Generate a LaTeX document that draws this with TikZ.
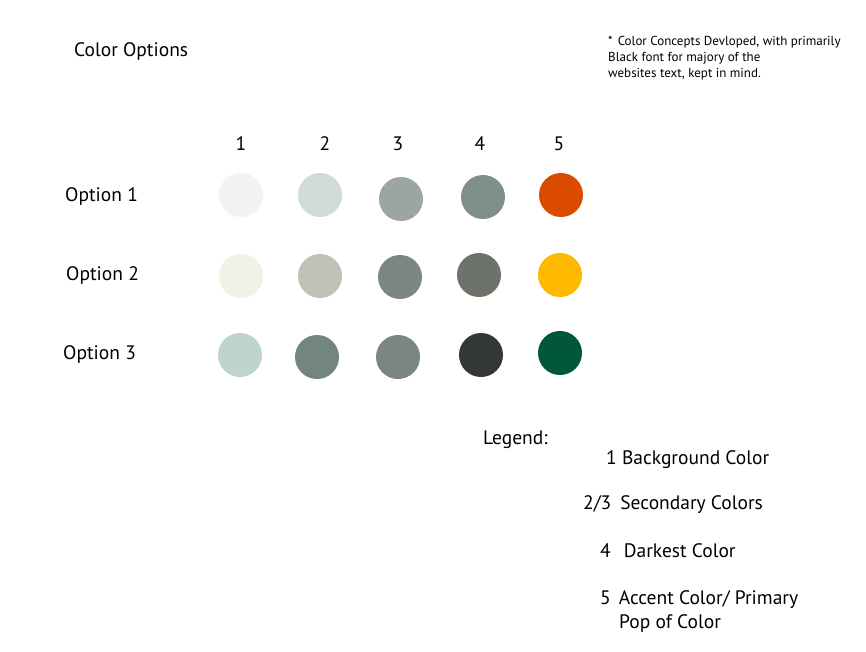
\documentclass[tikz,border=0pt]{standalone}
\usepackage{fontspec}
\setmainfont{PT Sans}
\begin{document}
\begin{tikzpicture}[x=1pt,y=-1pt,
  lbl/.style={anchor=base west,inner sep=0pt,font=\fontsize{19.5}{23}\selectfont},
  num/.style={anchor=base,inner sep=0pt,font=\fontsize{19.5}{23}\selectfont},
  note/.style={anchor=base west,inner sep=0pt,font=\fontsize{13}{16}\selectfont},
  dot/.style={circle,minimum size=44pt,inner sep=0pt,draw=none}]
\useasboundingbox[fill=white] (0,0) rectangle (866,652);
\node[lbl] (title) at (74,57) {Color Options};
\node[note] (note1) at (608,46) {*\hspace{5pt}Color Concepts Devloped, with primarily};
\node[note] (note2) at (608,62) {Black font for majory of the};
\node[note] (note3) at (608,78) {websites text, kept in mind.};
\node[num] (n1) at (241,151) {1};
\node[num] (n2) at (325,151) {2};
\node[num] (n3) at (398,151) {3};
\node[num] (n4) at (480,151) {4};
\node[num] (n5) at (559,151) {5};
\node[lbl] (o1) at (65,201) {Option 1};
\node[lbl] (o2) at (66,280) {Option 2};
\node[lbl] (o3) at (63,359) {Option 3};
\definecolor{ca1}{HTML}{F1F2F4}\definecolor{ca2}{HTML}{D0DCDA}\definecolor{ca3}{HTML}{9AA5A4}\definecolor{ca4}{HTML}{7E8F88}\definecolor{ca5}{HTML}{DA4B00}
\definecolor{cb1}{HTML}{F0F2E5}\definecolor{cb2}{HTML}{BFC1B5}\definecolor{cb3}{HTML}{7C8784}\definecolor{cb4}{HTML}{6D726B}\definecolor{cb5}{HTML}{FFB800}
\definecolor{cc1}{HTML}{C0D4CE}\definecolor{cc2}{HTML}{72857E}\definecolor{cc3}{HTML}{7A8680}\definecolor{cc4}{HTML}{333736}\definecolor{cc5}{HTML}{00573A}
\node[dot,fill=ca1] (a1) at (241,195) {};
\node[dot,fill=ca2] (a2) at (320,195) {};
\node[dot,fill=ca3] (a3) at (401,199) {};
\node[dot,fill=ca4] (a4) at (483,197) {};
\node[dot,fill=ca5] (a5) at (561,195) {};
\node[dot,fill=cb1] (b1) at (241,276) {};
\node[dot,fill=cb2] (b2) at (320,276) {};
\node[dot,fill=cb3] (b3) at (400,277) {};
\node[dot,fill=cb4] (b4) at (479,275) {};
\node[dot,fill=cb5] (b5) at (560,275) {};
\node[dot,fill=cc1] (c1) at (240,355) {};
\node[dot,fill=cc2] (c2) at (317,357) {};
\node[dot,fill=cc3] (c3) at (398,357) {};
\node[dot,fill=cc4] (c4) at (481,355) {};
\node[dot,fill=cc5] (c5) at (560,353) {};
\node[lbl] (leg) at (483,444) {Legend:};
\node[lbl] (l1) at (606,464) {1 Background Color};
\node[lbl] (l2) at (583,509) {2/3\hspace{9pt}Secondary Colors};
\node[lbl] (l3) at (600,557) {4\hspace{13pt}Darkest Color};
\node[lbl] (l4) at (600,604) {5\hspace{8pt}Accent Color/ Primary};
\node[lbl] (l5) at (619,628) {Pop of Color};
\end{tikzpicture}
\end{document}
